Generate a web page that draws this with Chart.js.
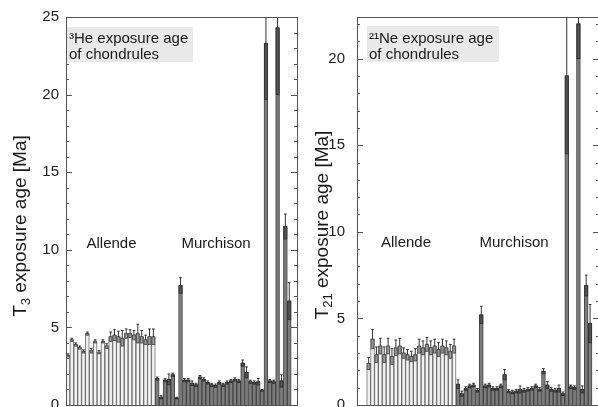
<!DOCTYPE html>
<html><head><meta charset="utf-8">
<script src="https://cdn.jsdelivr.net/npm/chart.js@4.4.0/dist/chart.umd.min.js"></script>
<style>
html,body{margin:0;padding:0;width:598px;height:407px;overflow:hidden;background:#fff;}
#c1{position:absolute;left:0;top:0;width:300px;height:420px;}
#c2{position:absolute;left:300px;top:0;width:310px;height:420px;}
</style></head><body>
<canvas id="c1" width="300" height="420"></canvas>
<canvas id="c2" width="310" height="420"></canvas>
<script>
// ---- data ----
const groupNames = ['Allende', 'Murchison'];
const tickValues = [0, 5, 10, 15, 20, 25];

const allende3    = [3.2, 4.2, 3.9, 3.7, 3.45, 4.6, 3.5, 4.1, 3.4, 4.1, 3.8, 4.4, 4.5, 4.4, 4.3, 4.6, 4.6, 4.5, 4.6, 4.4, 4.2, 4.4, 4.4];
const allende3Err = [0.1, 0.1, 0.1, 0.1, 0.1, 0.1, 0.15, 0.1, 0.1, 0.1, 0.15, 0.3, 0.35, 0.35, 0.5, 0.3, 0.25, 0.3, 0.6, 0.4, 0.3, 0.5, 0.5];
const murchison3    = [1.7, 0.5, 1.6, 1.65, 1.95, 0.45, 7.7, 1.6, 1.6, 1.4, 1.3, 1.8, 1.65, 1.45, 1.3, 1.25, 1.45, 1.3, 1.45, 1.55, 1.65, 1.55, 2.7, 2.1, 1.5, 1.45, 1.5, 0.95, 23.3, 1.55, 1.5, 24.3, 1.55, 11.5, 6.7];
const murchison3Err = [0.1, 0.1, 0.1, 0.35, 0.1, 0.05, 0.5, 0.1, 0.1, 0.15, 0.1, 0.1, 0.1, 0.1, 0.1, 0.1, 0.1, 0.1, 0.1, 0.1, 0.1, 0.1, 0.2, 0.35, 0.1, 0.1, 0.2, 0.05, 3.6, 0.1, 0.1, 4.3, 0.4, 0.8, 1.2];

const allende21    = [2.4, 3.8, 2.9, 3.4, 2.9, 3.4, 2.8, 3.3, 3.4, 3.0, 2.9, 2.8, 2.9, 3.4, 3.3, 3.5, 3.3, 3.4, 3.2, 3.4, 3.3, 3.1, 3.4];
const allende21Err = [0.35, 0.55, 0.45, 0.45, 0.45, 0.45, 0.45, 0.45, 0.45, 0.3, 0.3, 0.3, 0.35, 0.4, 0.4, 0.4, 0.4, 0.4, 0.4, 0.4, 0.4, 0.4, 0.4];
const murchison21    = [1.2, 0.65, 0.95, 1.1, 1.15, 0.85, 5.2, 1.1, 1.15, 0.95, 0.95, 1.1, 1.75, 0.8, 0.75, 0.8, 0.9, 0.85, 0.9, 0.95, 1.1, 0.9, 1.95, 1.15, 0.9, 0.85, 0.95, 0.65, 19.0, 1.05, 1.0, 22.0, 0.9, 6.9, 4.7];
const murchison21Err = [0.25, 0.15, 0.1, 0.1, 0.1, 0.1, 0.5, 0.1, 0.1, 0.1, 0.1, 0.1, 0.3, 0.1, 0.1, 0.1, 0.2, 0.1, 0.1, 0.1, 0.1, 0.1, 0.15, 0.2, 0.1, 0.1, 0.2, 0.1, 4.5, 0.1, 0.1, 2.0, 0.2, 0.6, 1.1];

const FONT = "'Liberation Sans', Arial, Helvetica, sans-serif";

const decor = {
  id: 'decor',
  afterDatasetsDraw(chart) {
    const o = chart.options.plugins.decor;
    const ctx = chart.ctx, a = chart.chartArea;
    const xs = chart.scales.x, ys = chart.scales.y;
    const pitch = Math.abs(xs.getPixelForValue(1) - xs.getPixelForValue(0));
    // error bars
    ctx.save();
    ctx.beginPath(); ctx.rect(a.left, a.top, a.right - a.left, a.bottom - a.top); ctx.clip();
    chart.data.datasets.forEach(ds => {
      ds.data.forEach((p, i) => {
        const e = ds.err[i];
        const cx = xs.getPixelForValue(p.x);
        const yTop = ys.getPixelForValue(p.y), yLo = ys.getPixelForValue(Math.max(0, p.y - e)), yHi = ys.getPixelForValue(p.y + e);
        const hw = pitch * 0.36;
        ctx.fillStyle = ds.errFill;
        ctx.strokeStyle = ds.errStroke;
        ctx.lineWidth = 1;
        ctx.fillRect(cx - hw, yTop, hw * 2, yLo - yTop);
        ctx.strokeRect(cx - hw, yTop, hw * 2, yLo - yTop);
        ctx.beginPath();
        ctx.moveTo(cx, yTop); ctx.lineTo(cx, yHi);
        ctx.moveTo(cx - pitch * 0.35, yHi); ctx.lineTo(cx + pitch * 0.35, yHi);
        ctx.strokeStyle = '#333';
        ctx.stroke();
      });
    });
    ctx.restore();
    // frame
    ctx.save();
    ctx.strokeStyle = '#555'; ctx.lineWidth = 1;
    ctx.strokeRect(Math.round(a.left) + 0.5, Math.round(a.top) + 0.5, Math.round(a.right - a.left), Math.round(a.bottom - a.top));
    // inward ticks, minor every 1, major every 5
    ctx.beginPath();
    for (let v = 0; v <= ys.max; v += 1) {
      const y = Math.round(ys.getPixelForValue(v)) + 0.5;
      const len = (v % 5 === 0) ? 6 : 3;
      ctx.moveTo(a.left, y); ctx.lineTo(a.left + len, y);
      ctx.moveTo(a.right, y); ctx.lineTo(a.right - len, y);
    }
    ctx.stroke();
    // annotation box
    ctx.fillStyle = '#e9e9e9';
    ctx.fillRect(a.left + o.box[0], a.top + o.box[1], o.box[2], o.box[3]);
    ctx.fillStyle = '#1a1a1a';
    ctx.font = '15px ' + FONT;
    ctx.textAlign = 'left'; ctx.textBaseline = 'alphabetic';
    ctx.fillText(o.line1, a.left + o.box[0] + 2, a.top + 26);
    ctx.fillText('of chondrules', a.left + o.box[0] + 2, a.top + 42);
    // group labels
    ctx.textAlign = 'center';
    ctx.fillText(groupNames[0], o.g1[0], o.g1[1]);
    ctx.fillText(groupNames[1], o.g2[0], o.g2[1]);
    // y title with subscript
    ctx.translate(o.title[0], o.title[1]);
    ctx.rotate(-Math.PI / 2);
    const big = '19px ' + FONT, small = '13px ' + FONT;
    ctx.font = big; const wT = ctx.measureText('T').width;
    const rest = ' exposure age [Ma]'; const wR = ctx.measureText(rest).width;
    ctx.font = small; const wS = ctx.measureText(o.sub).width;
    let x0 = -(wT + wS + wR) / 2;
    ctx.textAlign = 'left';
    ctx.font = big; ctx.fillText('T', x0, 6);
    ctx.font = small; ctx.fillText(o.sub, x0 + wT, 10);
    ctx.font = big; ctx.fillText(rest, x0 + wT + wS, 6);
    ctx.restore();
  }
};

function makeChart(id, allende, allendeErr, murch, murchErr, cfg) {
  const aData = allende.map((v, i) => ({x: i, y: v}));
  const mData = murch.map((v, i) => ({x: allende.length + i, y: v}));
  return new Chart(document.getElementById(id), {
    type: 'bar',
    data: {
      datasets: [
        {label: groupNames[0], data: aData, err: allendeErr, backgroundColor: '#f3f3f3', borderColor: '#6e6e6e',
         errFill: '#9a9a9a', errStroke: '#555', borderWidth: 1, barPercentage: 1, categoryPercentage: 1, grouped: false},
        {label: groupNames[1], data: mData, err: murchErr, backgroundColor: '#7c7c7c', borderColor: '#444',
         errFill: '#555', errStroke: '#333', borderWidth: 1, barPercentage: 1, categoryPercentage: 1, grouped: false}
      ]
    },
    options: {
      responsive: false, animation: false, events: [],
      layout: {padding: {left: 0, right: cfg.padRight, top: 17, bottom: 15}},
      plugins: {legend: {display: false}, tooltip: {enabled: false}, decor: cfg.decor},
      scales: {
        x: {type: 'linear', min: cfg.xmin, max: cfg.xmax, display: false, offset: false},
        y: {min: 0, max: cfg.ymax, position: 'left',
            grid: {display: false, drawTicks: false}, border: {display: false},
            ticks: {stepSize: 5, padding: cfg.tickPad, color: '#222', font: {family: FONT, size: 15}},
            afterBuildTicks: s => { s.ticks = tickValues.filter(v => v <= cfg.ymax).map(v => ({value: v})); },
            afterFit: s => { s.width = cfg.axisW; s.paddingTop = 0; s.paddingBottom = 0; }}
      }
    },
    plugins: [decor]
  });
}

makeChart('c1', allende3, allende3Err, murchison3, murchison3Err, {
  xmin: -0.5, xmax: 59.0, ymax: 25, axisW: 66, padRight: 3, tickPad: 7,
  decor: {box: [1, 10, 126, 35], line1: '\u00B3He exposure age', sub: '3', g1: [111.5, 248], g2: [216, 248], title: [20, 226]}
});
makeChart('c2', allende21, allende21Err, murchison21, murchison21Err, {
  xmin: -3, xmax: 59.3, ymax: 22.4, axisW: 57, padRight: 11, tickPad: 12,
  decor: {box: [10, 9, 132, 36], line1: '\u00B2\u00B9Ne exposure age', sub: '21', g1: [106, 247], g2: [214, 247], title: [22, 225]}
});
</script>
</body></html>
